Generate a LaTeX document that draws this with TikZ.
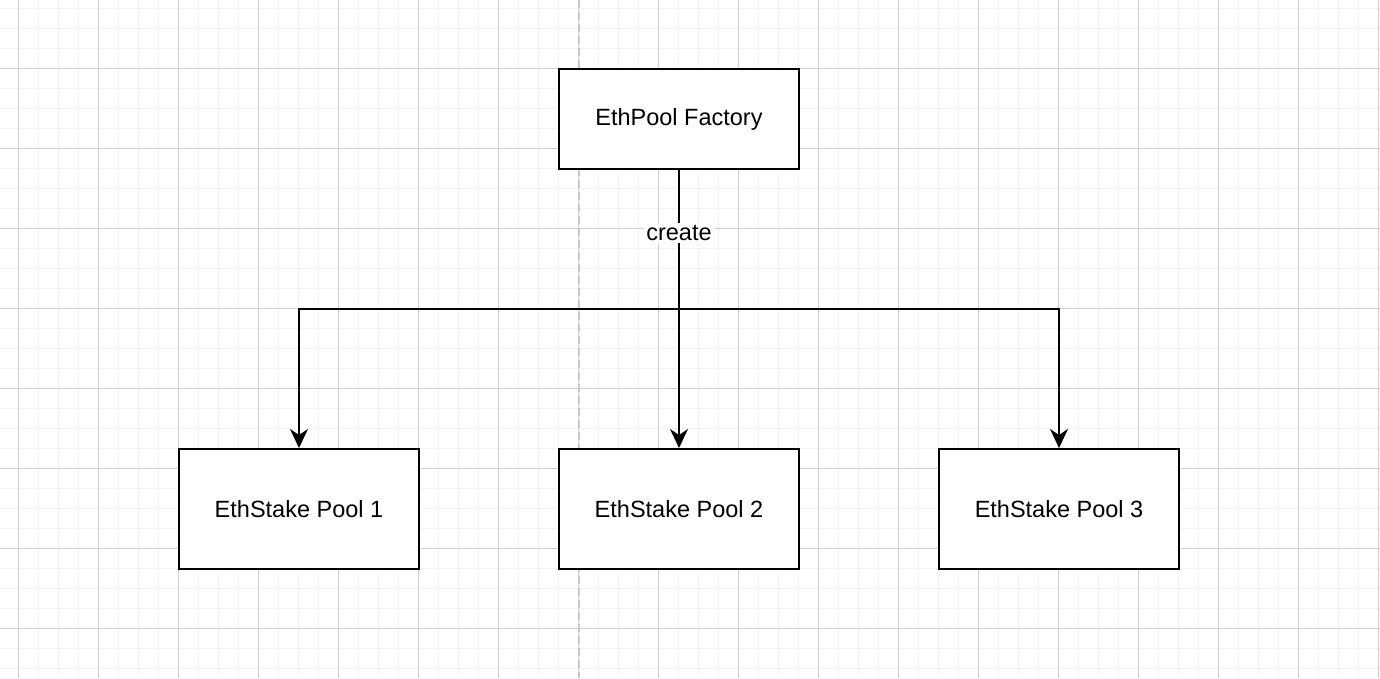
\documentclass[tikz,border=0pt]{standalone}
\usepackage{fontspec}
\setmainfont{Liberation Sans}
\usetikzlibrary{arrows.meta}
\begin{document}
\begin{tikzpicture}[x=1pt,y=-1pt,
  box/.style={draw=black,line width=2pt,fill=white,minimum width=240pt,minimum height=100pt,inner sep=0pt,font=\fontsize{23.5}{28}\selectfont},
  pool/.style={box,minimum height=120pt},
  conn/.style={draw=black,line width=2pt,-{Stealth[length=19pt,width=18pt,inset=6pt]}},
  lbl/.style={fill=white,inner sep=2pt,font=\fontsize{23.5}{28}\selectfont}]
\useasboundingbox (0,0) rectangle (1380,678);
\fill[white] (0,0) rectangle (1380,678);
% minor grid
\foreach \x in {-1.5,18.5,...,1380} \draw[line width=1.5pt,color=black!5] (\x,0) -- (\x,678);
\foreach \y in {8.5,28.5,...,678} \draw[line width=1.5pt,color=black!5] (0,\y) -- (1380,\y);
% major grid
\foreach \x in {18.5,98.5,...,1380} \draw[line width=1pt,color=black!19] (\x,0) -- (\x,678);
\foreach \y in {68.5,148.5,...,678} \draw[line width=1pt,color=black!19] (0,\y) -- (1380,\y);
% dashed page boundary
\draw[line width=1.5pt,color=black!22,dash pattern=on 8pt off 4pt] (579,0) -- (579,678);
% nodes
\node[box] (f) at (679,119) {\raisebox{-2pt}{EthPool Factory}};
\node[pool] (p1) at (299,509) {\raisebox{-1pt}{EthStake Pool 1}};
\node[pool] (p2) at (679,509) {\raisebox{-1pt}{EthStake Pool 2}};
\node[pool] (p3) at (1059,509) {\raisebox{-1pt}{EthStake Pool 3}};
\coordinate (j) at (679,309);
% connectors
\draw[conn] (f.south) -- (p2.north);
\draw[conn] (f.south) -- (j) -| (p1.north);
\draw[conn] (f.south) -- (j) -| (p3.north);
\node[lbl] (c) at (679,233) {create};
\end{tikzpicture}
\end{document}
